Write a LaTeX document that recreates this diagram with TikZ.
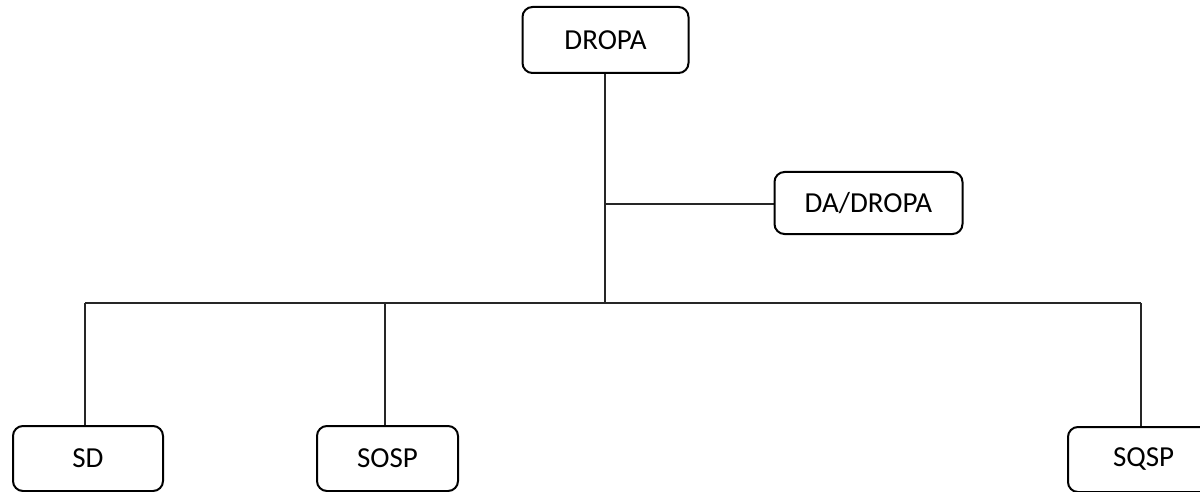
\documentclass[tikz,border=0pt]{standalone}
\usepackage{fontspec}
\setmainfont{Carlito}
\begin{document}
\begin{tikzpicture}[x=1pt,y=-1pt,
  box/.style={draw=black,line width=2pt,rounded corners=10pt,fill=white,
    inner sep=0pt,font=\fontsize{29}{32}\selectfont},
  conn/.style={draw=black!85,line width=1.1pt}]
\useasboundingbox (0,0) rectangle (1200,492);
\clip (0,0) rectangle (1200,492);
\fill[white] (0,0) rectangle (1200,492);
% coordinates of the bus
\coordinate (busL) at (85,303);
\coordinate (busM) at (605,303);
\coordinate (busR) at (1141,303);
\coordinate (br) at (605,204);
% connectors
\draw[conn] (605,73) -- (busM);
\draw[conn] (br) -- (775,204);
\draw[conn] (busL) -- (busR);
\draw[conn] (busL) -- (85,426);
\draw[conn] (385,303) -- (385,426);
\draw[conn] (busR) -- (1141,426);
% nodes
\node[box,minimum width=166pt,minimum height=66pt] (dropa) at (605.5,40) {DROPA};
\node[box,minimum width=188pt,minimum height=62pt] (da) at (868.5,203) {DA/DROPA};
\node[box,minimum width=150pt,minimum height=65pt] (sd) at (88,458.5) {SD};
\node[box,minimum width=141pt,minimum height=65pt] (sosp) at (387.5,458.5) {SOSP};
\node[box,minimum width=170pt,minimum height=65pt,text width=150pt,align=left] (sqsp) at (1153,459.5) {\hspace*{35pt}SQSP};
\end{tikzpicture}
\end{document}
